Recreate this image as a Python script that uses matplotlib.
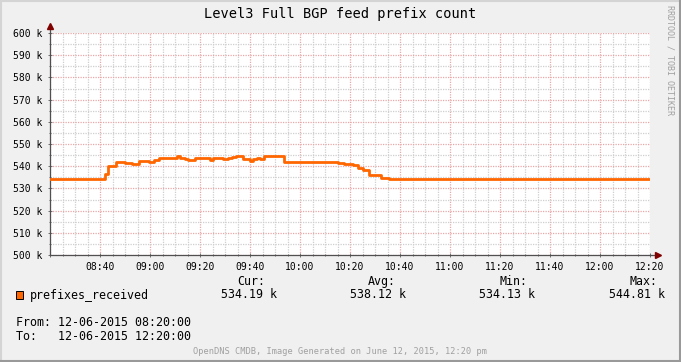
import matplotlib
matplotlib.use('Agg')
import matplotlib.pyplot as plt
from matplotlib.patches import Rectangle
from matplotlib.lines import Line2D
from matplotlib.ticker import MultipleLocator, FuncFormatter

# step series: start minute after 08:20, value in k
minutes = [0, 2, 6.4, 12.3, 15.7, 22, 23.3, 26.4, 30, 32.7, 35.7, 39.7, 41.6, 43.6,
           50.7, 52, 54, 55.2, 58, 59.6, 64, 65.2, 67.2, 69.2, 71.2, 72.8, 74.4,
           77.2, 80, 81.2, 82.8, 84, 85.6, 93.6, 115.2, 117.6, 121.2, 123.2, 125.2,
           127.6, 132.4, 135.6, 143.2, 145.6, 150.4, 168.4, 172.4, 177.6, 191.6, 239.6]
prefixes = [534.4, 534.15, 534.4, 534.15, 534.4, 536.5, 540.2, 541.8, 541.5, 540.9,
            542.3, 542.0, 542.8, 543.9, 544.81, 543.8, 543.4, 542.8, 543.5, 543.8,
            542.8, 543.5, 543.8, 543.3, 543.8, 544.1, 544.4, 543.4, 542.5, 543.4,
            543.8, 543.1, 544.6, 541.9, 541.6, 541.1, 540.4, 539.3, 538.1, 536.2,
            534.8, 534.4, 534.15, 534.4, 534.15, 534.4, 534.15, 534.4, 534.19, 534.19]

time_labels = ['08:20', '08:40', '09:00', '09:20', '09:40', '10:00', '10:20',
               '10:40', '11:00', '11:20', '11:40', '12:00', '12:20']
stats_heads = ['Cur:', 'Avg:', 'Min:', 'Max:']
stats_vals = ['534.19 k', '538.12 k', '534.13 k', '544.81 k']

W, H = 681, 362
mono = 'DejaVu Sans Mono'
plt.rcParams['font.family'] = mono

fig = plt.figure(figsize=(W / 100, H / 100), dpi=100)
fig.patch.set_facecolor('#F0F0F0')

def fx(x):
    return x / W

def fy(y):
    return 1 - y / H

ax = fig.add_axes([fx(50), fy(255), 600 / W, 222 / H])
ax.set_facecolor('white')
ax.set_xlim(0, 240)
ax.set_ylim(500, 600)

ax.xaxis.set_major_locator(MultipleLocator(20))
ax.xaxis.set_minor_locator(MultipleLocator(5))
ax.yaxis.set_major_locator(MultipleLocator(10))
ax.yaxis.set_minor_locator(MultipleLocator(5))
ax.xaxis.set_major_formatter(FuncFormatter(
    lambda v, p: time_labels[int(round(v / 20))] if 20 <= v <= 240 else ''))
ax.yaxis.set_major_formatter(FuncFormatter(lambda v, p: '%d k' % round(v)))

ax.grid(True, which='minor', color='#CFCFCF', linestyle=(0, (1, 1)), linewidth=0.9)
ax.grid(True, which='major', color='#E8A8A8', linestyle=(0, (1, 1)), linewidth=0.9)
ax.set_axisbelow(True)

for s in ['top', 'right']:
    ax.spines[s].set_visible(False)
for s in ['left', 'bottom']:
    ax.spines[s].set_color('#505050')
    ax.spines[s].set_linewidth(0.9)

ax.tick_params(which='both', direction='inout', color='#707070', width=0.7)
ax.tick_params(which='major', length=3)
ax.tick_params(which='minor', length=2)
ax.tick_params(axis='x', labelsize=7, pad=3.5)
ax.tick_params(axis='y', labelsize=7, pad=3.8)

ax.step(minutes, prefixes, where='post', color='#FF6600', linewidth=2, zorder=3)

# axis arrows
ax.plot([0, 0], [600, 603], color='#505050', lw=0.9, clip_on=False)
ax.plot([240, 242.8], [500, 500], color='#505050', lw=0.9, clip_on=False)
ax.plot([0], [603.2], marker='^', color='#800000', markersize=4, clip_on=False)
ax.plot([243], [500], marker='>', color='#800000', markersize=4, clip_on=False)

fig.text(fx(340), fy(14), 'Level3 Full BGP feed prefix count', fontsize=9.8,
         ha='center', va='center')
fig.text(fx(670), fy(60), 'RRDTOOL / TOBI OETIKER', fontsize=6, color='#A0A0A0',
         rotation=270, ha='center', va='center')

head_x = [265, 396, 527, 657]
val_x = [277, 406, 535, 665]
for hx, vx, h, v in zip(head_x, val_x, stats_heads, stats_vals):
    fig.text(fx(hx), fy(281.5), h, fontsize=8.4, ha='right', va='center')
    fig.text(fx(vx), fy(295), v, fontsize=8.4, ha='right', va='center')

fig.patches.append(Rectangle((fx(16), fy(299)), 7 / W, 8 / H, transform=fig.transFigure,
                             facecolor='#FF6600', edgecolor='black', linewidth=0.7))
fig.text(fx(30), fy(295), 'prefixes_received', fontsize=8.4, ha='left', va='center')
fig.text(fx(16), fy(322.5), 'From: 12-06-2015 08:20:00', fontsize=8.4, ha='left', va='center')
fig.text(fx(16), fy(337), 'To:   12-06-2015 12:20:00', fontsize=8.4, ha='left', va='center')
fig.text(fx(340), fy(351), 'OpenDNS CMDB, Image Generated on June 12, 2015, 12:20 pm',
         fontsize=6.2, color='#A0A0A0', ha='center', va='center')

# shaded frame
fig.add_artist(Line2D([0, 1], [fy(1), fy(1)], transform=fig.transFigure, color='#D4D4D4', lw=1.5))
fig.add_artist(Line2D([fx(1), fx(1)], [0, 1], transform=fig.transFigure, color='#D4D4D4', lw=1.5))
fig.add_artist(Line2D([0, 1], [fy(361), fy(361)], transform=fig.transFigure, color='#999999', lw=1.5))
fig.add_artist(Line2D([fx(680), fx(680)], [0, 1], transform=fig.transFigure, color='#999999', lw=1.5))

fig.savefig('out.png', dpi=100, facecolor=fig.get_facecolor())
